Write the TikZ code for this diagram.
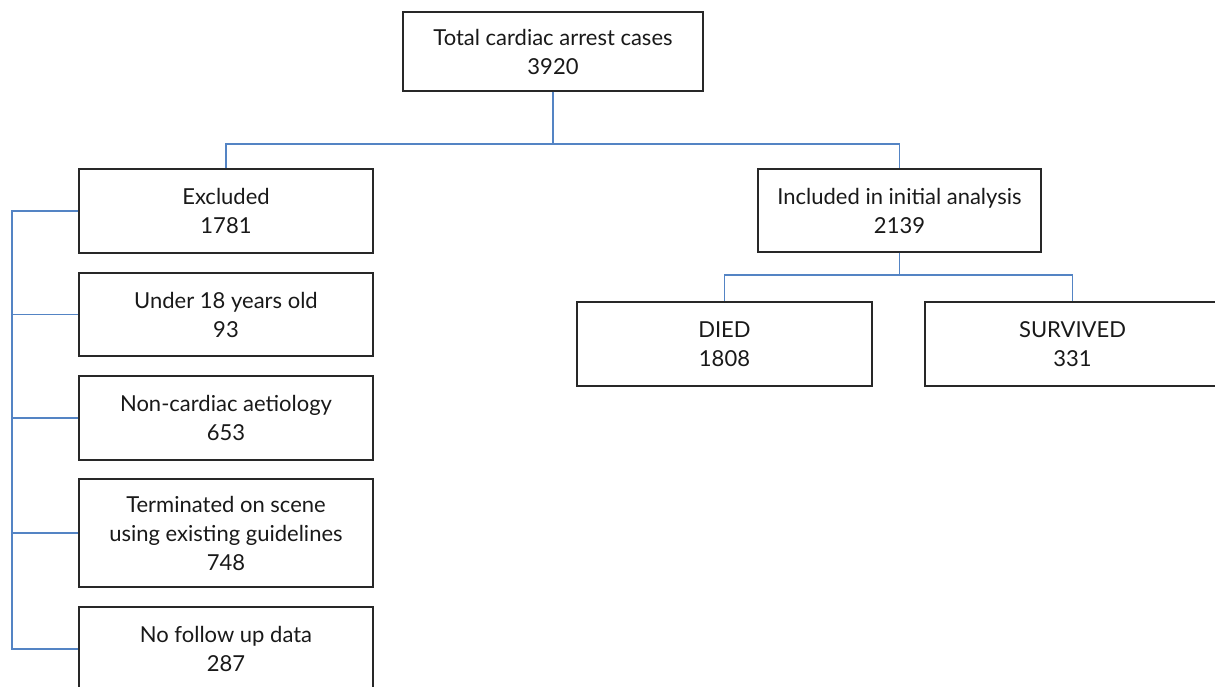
\documentclass[tikz,border=0pt]{standalone}
\usepackage{fontspec}
\setmainfont{Lato}
\definecolor{linkblue}{RGB}{84,132,196}
\definecolor{boxline}{RGB}{40,40,40}
\tikzset{
  box/.style={draw=boxline, line width=1.3pt, rectangle, align=center, inner sep=0pt,
    font=\fontsize{22}{29}\selectfont, text=black!90},
  link/.style={draw=linkblue, line width=1.3pt}
}
\begin{document}
\begin{tikzpicture}[x=1pt,y=-1pt]
\clip (0,0) rectangle (1215,686);
\useasboundingbox (0,0) rectangle (1215,686);
\node[box, minimum width=300pt, minimum height=79pt] (total) at (553,51.5) {Total cardiac arrest cases\\3920};
\node[box, minimum width=294pt, minimum height=84pt] (excl) at (226,211) {Excluded\\1781};
\node[box, minimum width=283pt, minimum height=83pt] (incl) at (899.5,210.5) {Included in initial analysis\\2139};
\node[box, minimum width=294pt, minimum height=83pt] (under) at (226,314.5) {Under 18 years old\\93};
\node[box, minimum width=294pt, minimum height=84pt] (noncard) at (226,418) {Non-cardiac aetiology\\653};
\node[box, minimum width=294pt, minimum height=108pt] (term) at (226,533) {Terminated on scene\\using existing guidelines\\748};
\node[box, minimum width=294pt, minimum height=84pt] (nofollow) at (226,649) {No follow up data\\287};
\node[box, minimum width=295pt, minimum height=84pt] (died) at (724.5,344) {DIED\\1808};
\node[box, minimum width=295pt, minimum height=84pt] (surv) at (1072.5,344) {SURVIVED\\331};
\coordinate (j1) at (553,144);
\coordinate (j2) at (899.5,275);
\coordinate (bus) at (12,0);
\draw[link] (total.south) -- (j1);
\draw[link] (j1) -| (excl.north);
\draw[link] (j1) -| (incl.north);
\draw[link] (incl.south) -- (j2);
\draw[link] (j2) -| (died.north);
\draw[link] (j2) -| (surv.north);
\draw[link] (excl.west) -| (bus |- nofollow.west) -- (nofollow.west);
\draw[link] (bus |- under.west) -- (under.west);
\draw[link] (bus |- noncard.west) -- (noncard.west);
\draw[link] (bus |- term.west) -- (term.west);
\end{tikzpicture}
\end{document}
